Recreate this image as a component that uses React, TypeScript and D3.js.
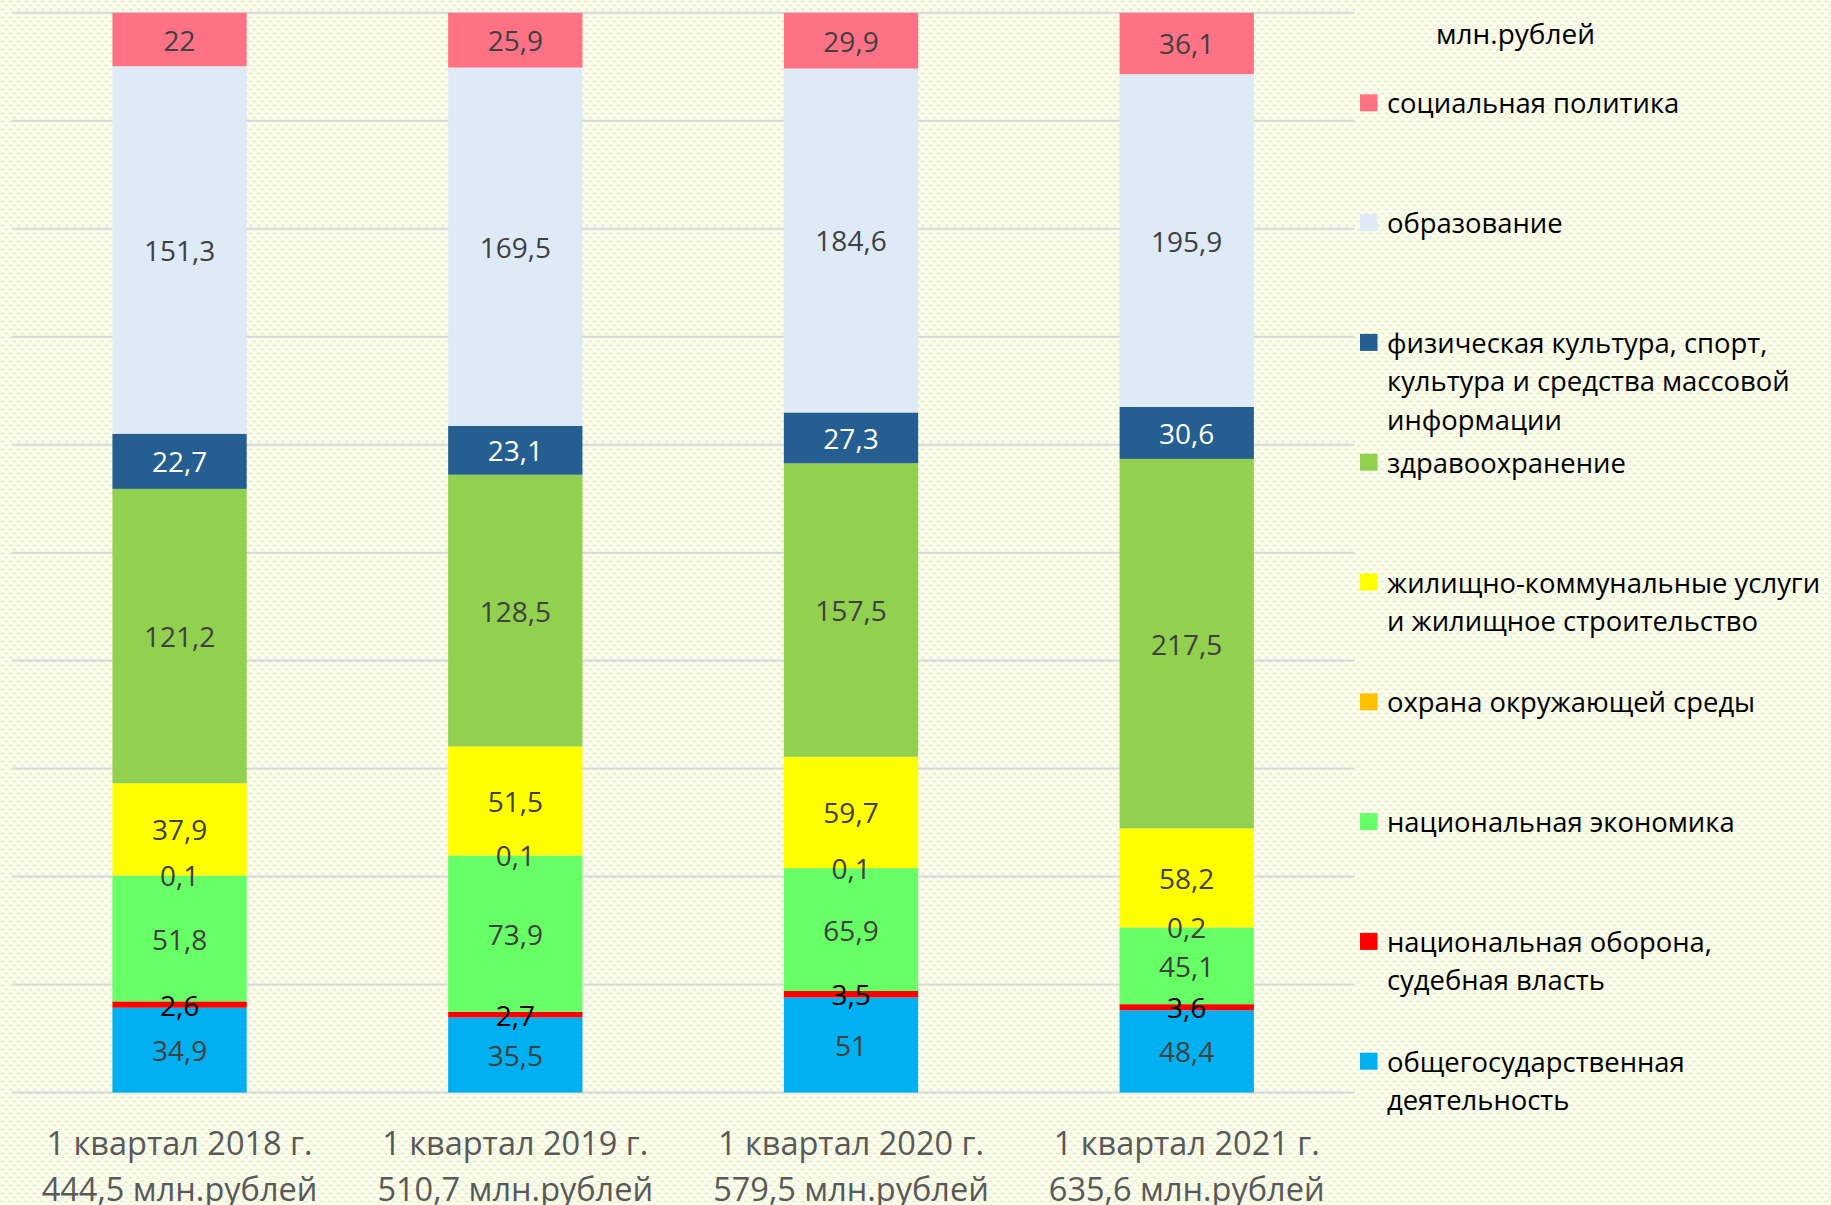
import React from "react";
import * as d3 from "d3";

const categories = ["1 квартал 2018 г.", "1 квартал 2019 г.", "1 квартал 2020 г.", "1 квартал 2021 г."];
const totalsLabels = ["444,5 млн.рублей", "510,7 млн.рублей", "579,5 млн.рублей", "635,6 млн.рублей"];

// series, bottom to top
const seriesNames = [
  "общегосударственная деятельность",
  "национальная оборона, судебная власть",
  "национальная экономика",
  "охрана окружающей среды",
  "жилищно-коммунальные услуги и жилищное строительство",
  "здравоохранение",
  "физическая культура, спорт, культура и средства массовой информации",
  "образование",
  "социальная политика",
];
const legendLines: string[][] = [
  ["общегосударственная", "деятельность"],
  ["национальная оборона,", "судебная власть"],
  ["национальная экономика"],
  ["охрана окружающей среды"],
  ["жилищно-коммунальные услуги", "и жилищное строительство"],
  ["здравоохранение"],
  ["физическая культура, спорт,", "культура и средства массовой", "информации"],
  ["образование"],
  ["социальная политика"],
];
const seriesColors = ["#00B0F0", "#FF0000", "#66FF66", "#FFC000", "#FFFF00", "#92D050", "#255E91", "#DEEAF6", "#FF7285"];
const labelColors = ["#404040", "#000000", "#404040", "#404040", "#404040", "#404040", "#FFFFFF", "#404040", "#404040"];

const general = [34.9, 35.5, 51, 48.4];
const defence = [2.6, 2.7, 3.5, 3.6];
const economy = [51.8, 73.9, 65.9, 45.1];
const environment = [0.1, 0.1, 0.1, 0.2];
const housing = [37.9, 51.5, 59.7, 58.2];
const health = [121.2, 128.5, 157.5, 217.5];
const culture = [22.7, 23.1, 27.3, 30.6];
const education = [151.3, 169.5, 184.6, 195.9];
const social = [22, 25.9, 29.9, 36.1];
const seriesValues = [general, defence, economy, environment, housing, health, culture, education, social];

const W = 1831, H = 1205;
const plotLeft = 11.7, plotRight = 1354.6, plotTop = 12.8, plotBottom = 1092.5;
const FONT = "'Open Sans', sans-serif";

export default function App() {
  const table = categories.map((c, i) => {
    const row: any = { cat: c };
    seriesValues.forEach((s, k) => (row["s" + k] = s[i]));
    return row;
  });
  const keys = seriesValues.map((_, k) => "s" + k);
  const stacked = d3.stack().keys(keys).offset(d3.stackOffsetExpand)(table);

  const x = d3.scaleBand().domain(categories).range([plotLeft, plotRight]).paddingInner(0.6).paddingOuter(0.3);
  const y = d3.scaleLinear().domain([0, 1]).range([plotBottom, plotTop]);
  const ticks = d3.range(0, 1.0001, 0.1);
  const fmt = (v: number) => String(v).replace(".", ",");

  const legendX = 1360, legendTop = 102.8, legendStep = 119.8, lineH = 38.5;

  return (
    <div style={{ position: "absolute", left: 0, top: 0 }}>
      <svg width={W} height={H} style={{ display: "block" }}>
        <defs>
          <pattern id="bgp" width="8" height="8" patternUnits="userSpaceOnUse">
            <rect width="8" height="8" fill="#FBFCEA" />
            <ellipse cx="2.5" cy="1.5" rx="2.2" ry="0.9" fill="#E3EED3" />
            <ellipse cx="6.5" cy="5.5" rx="2.2" ry="0.9" fill="#E3EED3" />
          </pattern>
        </defs>
        <rect width={W} height={H} fill="url(#bgp)" />
        {ticks.map((t, i) => (
          <line key={i} x1={plotLeft} x2={plotRight} y1={y(t)} y2={y(t)} stroke="#D9D9D9" strokeWidth={2} />
        ))}
        {stacked.map((layer, k) => (
          <g key={k}>
            {layer.map((d, i) => (
              <rect key={i} x={x(categories[i])} width={x.bandwidth()} y={y(d[1])} height={y(d[0]) - y(d[1])} fill={seriesColors[k]} />
            ))}
          </g>
        ))}
        {stacked.map((layer, k) => (
          <g key={"l" + k}>
            {layer.map((d, i) => (
              <text key={i} x={(x(categories[i]) as number) + x.bandwidth() / 2} y={y((d[0] + d[1]) / 2)}
                textAnchor="middle" dominantBaseline="central" fontFamily={FONT} fontSize={28} fill={labelColors[k]}>
                {fmt(seriesValues[k][i])}
              </text>
            ))}
          </g>
        ))}
        {categories.map((c, i) => {
          const cx = (x(c) as number) + x.bandwidth() / 2;
          return (
            <g key={"c" + i} fontFamily={FONT} fontSize={32.5} fill="#595959" textAnchor="middle">
              <text x={cx} y={1142} dominantBaseline="central">{c}</text>
              <text x={cx} y={1188} dominantBaseline="central">{totalsLabels[i]}</text>
            </g>
          );
        })}
        <text x={1436} y={32.7} dominantBaseline="central" fontFamily={FONT} fontSize={28} fill="#000">млн.рублей</text>
        {legendLines.map((lines, k) => {
          const idx = legendLines.length - 1 - k;
          const ly = legendTop + idx * legendStep;
          return (
            <g key={"lg" + k}>
              <rect x={legendX} y={ly - 8.5} width={17.5} height={17} fill={seriesColors[k]} />
              {lines.map((ln, j) => (
                <text key={j} x={1387} y={ly + j * lineH} dominantBaseline="central" fontFamily={FONT} fontSize={27.4} fill="#000">{ln}</text>
              ))}
            </g>
          );
        })}
      </svg>
    </div>
  );
}
